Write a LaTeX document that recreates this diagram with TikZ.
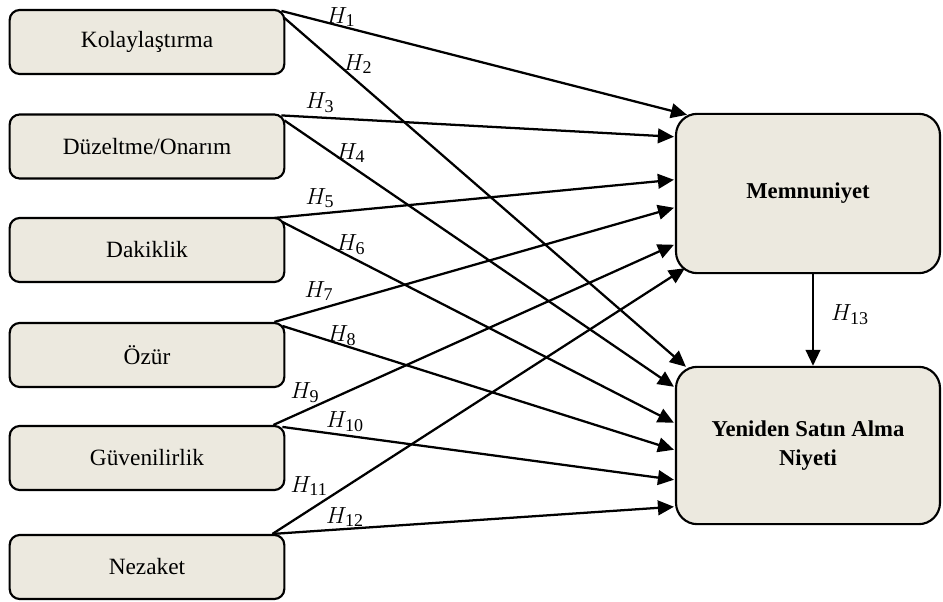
\RequirePackage{fix-cm}
\documentclass[tikz,border=0pt]{standalone}
\usepackage{fontspec}
\setmainfont{Liberation Serif}
\usetikzlibrary{arrows.meta,calc}
\definecolor{boxfill}{HTML}{ECE9DF}
\newcommand{\hyp}[1]{$H_{\mbox{\fontsize{13.5}{14}\selectfont #1}}$}
\begin{document}
\begin{tikzpicture}[x=0.75pt,y=-0.75pt,
  leftbox/.style={draw, line width=1.6pt, fill=boxfill, rounded corners=7.5pt,
    minimum width=206pt, minimum height=48pt, inner sep=0pt,
    font=\fontsize{17.5}{20}\selectfont},
  rightbox/.style={draw, line width=1.6pt, fill=boxfill, rounded corners=16pt,
    minimum width=198pt, inner sep=0pt, align=center,
    font=\fontsize{17}{21.5}\selectfont\bfseries},
  arr/.style={line width=1.7pt, -{Triangle[length=12pt,width=11pt]}},
  hlab/.style={inner sep=0pt, font=\fontsize{17.5}{20}\selectfont}]
\useasboundingbox (0,0) rectangle (943,602);
% left boxes
\node[leftbox] (k1) at (147,42)    {Kolaylaştırma};
\node[leftbox] (k2) at (147,146.5) {Düzeltme/Onarım};
\node[leftbox] (k3) at (147,250)   {Dakiklik};
\node[leftbox] (k4) at (147,355)   {Özür};
\node[leftbox] (k5) at (147,458)   {Güvenilirlik};
\node[leftbox] (k6) at (147,567)   {Nezaket};
% right boxes
\node[rightbox, minimum height=119.5pt] (M) at (808,193.5) {Memnuniyet};
\node[rightbox, minimum height=118pt] (Y) at (808,445.5) {Yeniden Satın Alma\\Niyeti};
% connectors to Memnuniyet
\draw[arr] ($(k1.north east)+(-4,2)$)  -- ($(M.north west)+(12,2)$);
\draw[arr] ($(k2.north east)+(-4,2)$)  -- ($(M.north west)+(-1,24)$);
\draw[arr] ($(k3.north east)+(-11,1)$) -- ($(M.north west)+(-1,67)$);
\draw[arr] ($(k4.north east)+(-11,0)$) -- ($(M.north west)+(-1,95)$);
\draw[arr] ($(k5.north east)+(-12,0)$) -- ($(M.north west)+(-1,132)$);
\draw[arr] ($(k6.north east)+(-13,0)$) -- ($(M.south west)+(10,-6)$);
% connectors to Yeniden
\draw[arr] ($(k1.north east)+(-1,9)$)  -- ($(Y.north west)+(11,1)$);
\draw[arr] ($(k2.north east)+(-1,7)$)  -- ($(Y.north west)+(-1,21)$);
\draw[arr] ($(k3.north east)+(-3,5)$)  -- ($(Y.north west)+(-1,57)$);
\draw[arr] ($(k4.north east)+(-3,4)$)  -- ($(Y.north west)+(-1,84)$);
\draw[arr] ($(k5.north east)+(-3,2)$)  -- ($(Y.north west)+(-1,114)$);
\draw[arr] ($(k6.north east)+(-13,0)$) -- ($(Y.north west)+(-1,141)$);
% H13
\draw[arr] ($(M.south)+(5,0)$) -- ($(Y.north)+(5,0)$);
% labels
\node[hlab] (l1)  at (341,17)  {\hyp{1}};
\node[hlab] (l2)  at (358,64)  {\hyp{2}};
\node[hlab] (l3)  at (320,103) {\hyp{3}};
\node[hlab] (l4)  at (351,153) {\hyp{4}};
\node[hlab] (l5)  at (320,198) {\hyp{5}};
\node[hlab] (l6)  at (351,245) {\hyp{6}};
\node[hlab] (l7)  at (319,291) {\hyp{7}};
\node[hlab] (l8)  at (342,336) {\hyp{8}};
\node[hlab] (l9)  at (305,393) {\hyp{9}};
\node[hlab] (l10) at (345,422) {\hyp{10}};
\node[hlab] (l11) at (309,486) {\hyp{11}};
\node[hlab] (l12) at (345,517) {\hyp{12}};
\node[hlab] (l13) at (850,315) {\hyp{13}};
\end{tikzpicture}
\end{document}
